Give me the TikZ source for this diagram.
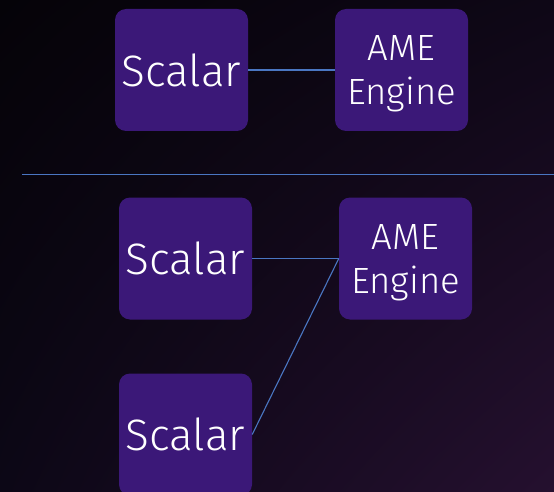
\documentclass[tikz,border=0pt]{standalone}
\usepackage{fontspec}
\setmainfont{Fira Sans Light}
\usetikzlibrary{shadings}
\begin{document}
\begin{tikzpicture}[x=1pt,y=-1pt,
  block/.style={rectangle, rounded corners=11pt, fill=boxpurple, text=white,
    minimum width=133pt, minimum height=122pt, inner sep=0pt, align=center},
  big/.style={font=\fontsize{44}{50}\selectfont},
  small/.style={font=\fontsize{36.5}{44}\selectfont, text depth=0pt},
  link/.style={draw=linkblue, line width=1.1pt}]
\definecolor{boxpurple}{HTML}{3B1878}
\definecolor{linkblue}{HTML}{4A76C2}
\definecolor{bgtl}{HTML}{050308}
\definecolor{bgtr}{HTML}{0E0716}
\definecolor{bgbl}{HTML}{0C0716}
\definecolor{bgbr}{HTML}{25102F}

% background
\useasboundingbox (0,0) rectangle (554,492);
\shade[upper left=bgtl, upper right=bgtr, lower left=bgbl, lower right=bgbr]
  (0,0) rectangle (554,492);

% upper diagram: one scalar unit feeding one engine
\node[block, big] (s0) at (181.5,70) {Scalar};
\node[block, small] (a0) at (401.5,70) {AME\\Engine};
\draw[link] (s0.east) -- (a0.west);

% divider
\coordinate (d1) at (22,174.5);
\coordinate (d2) at (554,174.5);
\draw[link, line width=1.3pt] (d1) -- (d2);

% lower diagram: two scalar units sharing one engine
\node[block, big] (s1) at (185.5,258.5) {Scalar};
\node[block, small] (a1) at (405.5,258.5) {AME\\Engine};
\node[block, big] (s2) at (185.5,434.5) {Scalar};
\draw[link] (s1.east) -- (a1.west);
\draw[link] (s2.east) -- (a1.west);
\end{tikzpicture}
\end{document}
